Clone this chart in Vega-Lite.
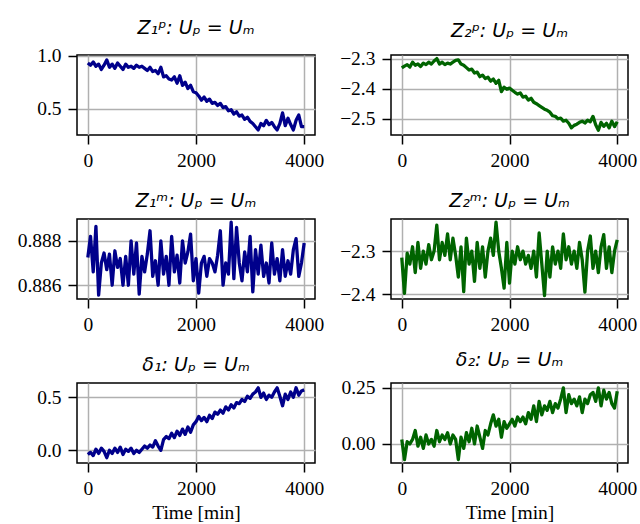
{
  "$schema": "https://vega.github.io/schema/vega-lite/v6.json",
  "background": "white",
  "padding": {"left": 16, "top": 17, "right": 2, "bottom": 0},
  "data": {"values": [
    {"t": 0, "a": 0.93, "b": -2.331, "c": 0.88725, "d": -2.315, "e": -0.04, "f": 0.02},
    {"t": 50, "a": 0.91, "b": -2.325, "c": 0.8882, "d": -2.398, "e": -0.02, "f": -0.07},
    {"t": 100, "a": 0.94, "b": -2.32, "c": 0.8866, "d": -2.305, "e": -0.05, "f": 0.01},
    {"t": 150, "a": 0.9, "b": -2.328, "c": 0.88865, "d": -2.33, "e": 0.01, "f": 0.0},
    {"t": 200, "a": 0.92, "b": -2.312, "c": 0.88555, "d": -2.29, "e": -0.03, "f": 0.02},
    {"t": 250, "a": 0.87, "b": -2.322, "c": 0.887, "d": -2.35, "e": 0.02, "f": 0.06},
    {"t": 300, "a": 0.91, "b": -2.318, "c": 0.88745, "d": -2.28, "e": -0.01, "f": -0.01},
    {"t": 350, "a": 0.96, "b": -2.326, "c": 0.8867, "d": -2.34, "e": -0.07, "f": 0.03},
    {"t": 400, "a": 0.89, "b": -2.315, "c": 0.8874, "d": -2.3, "e": 0.0, "f": -0.02},
    {"t": 450, "a": 0.92, "b": -2.32, "c": 0.886, "d": -2.33, "e": -0.03, "f": 0.04},
    {"t": 500, "a": 0.88, "b": -2.312, "c": 0.88755, "d": -2.285, "e": 0.02, "f": 0.0},
    {"t": 550, "a": 0.93, "b": -2.318, "c": 0.8868, "d": -2.32, "e": -0.02, "f": 0.02},
    {"t": 600, "a": 0.9, "b": -2.308, "c": 0.8872, "d": -2.3, "e": 0.03, "f": -0.01},
    {"t": 650, "a": 0.87, "b": -2.3, "c": 0.886, "d": -2.24, "e": -0.04, "f": 0.06},
    {"t": 700, "a": 0.92, "b": -2.318, "c": 0.8873, "d": -2.32, "e": 0.01, "f": 0.01},
    {"t": 750, "a": 0.89, "b": -2.312, "c": 0.886, "d": -2.28, "e": -0.01, "f": 0.04},
    {"t": 800, "a": 0.9, "b": -2.32, "c": 0.888, "d": -2.31, "e": 0.02, "f": 0.02},
    {"t": 850, "a": 0.88, "b": -2.315, "c": 0.8865, "d": -2.26, "e": -0.03, "f": 0.05},
    {"t": 900, "a": 0.91, "b": -2.318, "c": 0.8879, "d": -2.32, "e": 0.0, "f": 0.0},
    {"t": 950, "a": 0.89, "b": -2.312, "c": 0.8856, "d": -2.27, "e": -0.02, "f": 0.04},
    {"t": 1000, "a": 0.9, "b": -2.306, "c": 0.8873, "d": -2.31, "e": 0.01, "f": 0.02},
    {"t": 1050, "a": 0.88, "b": -2.304, "c": 0.8866, "d": -2.36, "e": 0.04, "f": -0.07},
    {"t": 1100, "a": 0.86, "b": -2.318, "c": 0.8874, "d": -2.29, "e": 0.02, "f": 0.03},
    {"t": 1150, "a": 0.89, "b": -2.322, "c": 0.88845, "d": -2.394, "e": 0.05, "f": -0.02},
    {"t": 1200, "a": 0.85, "b": -2.33, "c": 0.8864, "d": -2.27, "e": 0.03, "f": 0.05},
    {"t": 1250, "a": 0.86, "b": -2.338, "c": 0.8871, "d": -2.33, "e": 0.09, "f": 0.01},
    {"t": 1300, "a": 0.83, "b": -2.335, "c": 0.886, "d": -2.3, "e": 0.04, "f": 0.07},
    {"t": 1350, "a": 0.89, "b": -2.348, "c": 0.888, "d": -2.37, "e": 0.0, "f": 0.0},
    {"t": 1400, "a": 0.8, "b": -2.345, "c": 0.8865, "d": -2.28, "e": 0.1, "f": 0.08},
    {"t": 1450, "a": 0.81, "b": -2.36, "c": 0.8873, "d": -2.34, "e": 0.13, "f": 0.03},
    {"t": 1500, "a": 0.78, "b": -2.355, "c": 0.886, "d": -2.29, "e": 0.11, "f": -0.02},
    {"t": 1550, "a": 0.77, "b": -2.366, "c": 0.8882, "d": -2.36, "e": 0.16, "f": 0.06},
    {"t": 1600, "a": 0.8, "b": -2.362, "c": 0.8866, "d": -2.3, "e": 0.12, "f": 0.04},
    {"t": 1650, "a": 0.74, "b": -2.375, "c": 0.88735, "d": -2.27, "e": 0.18, "f": 0.09},
    {"t": 1700, "a": 0.81, "b": -2.368, "c": 0.8861, "d": -2.31, "e": 0.14, "f": 0.13},
    {"t": 1750, "a": 0.72, "b": -2.382, "c": 0.888, "d": -2.233, "e": 0.2, "f": 0.08},
    {"t": 1800, "a": 0.75, "b": -2.372, "c": 0.887, "d": -2.3, "e": 0.15, "f": 0.11},
    {"t": 1850, "a": 0.69, "b": -2.41, "c": 0.8875, "d": -2.34, "e": 0.22, "f": 0.03},
    {"t": 1900, "a": 0.72, "b": -2.395, "c": 0.8883, "d": -2.386, "e": 0.17, "f": 0.1},
    {"t": 1950, "a": 0.66, "b": -2.402, "c": 0.8862, "d": -2.28, "e": 0.24, "f": 0.07},
    {"t": 2000, "a": 0.65, "b": -2.398, "c": 0.8872, "d": -2.374, "e": 0.27, "f": 0.09},
    {"t": 2050, "a": 0.62, "b": -2.405, "c": 0.88565, "d": -2.3, "e": 0.32, "f": 0.11},
    {"t": 2100, "a": 0.58, "b": -2.412, "c": 0.887, "d": -2.33, "e": 0.28, "f": 0.08},
    {"t": 2150, "a": 0.61, "b": -2.418, "c": 0.8873, "d": -2.29, "e": 0.31, "f": 0.12},
    {"t": 2200, "a": 0.57, "b": -2.414, "c": 0.8864, "d": -2.32, "e": 0.27, "f": 0.1},
    {"t": 2250, "a": 0.59, "b": -2.428, "c": 0.8872, "d": -2.3, "e": 0.33, "f": 0.12},
    {"t": 2300, "a": 0.55, "b": -2.425, "c": 0.887, "d": -2.33, "e": 0.3, "f": 0.09},
    {"t": 2350, "a": 0.56, "b": -2.438, "c": 0.8866, "d": -2.31, "e": 0.36, "f": 0.14},
    {"t": 2400, "a": 0.53, "b": -2.432, "c": 0.88735, "d": -2.34, "e": 0.34, "f": 0.11},
    {"t": 2450, "a": 0.55, "b": -2.445, "c": 0.88845, "d": -2.3, "e": 0.38, "f": 0.17},
    {"t": 2500, "a": 0.51, "b": -2.45, "c": 0.886, "d": -2.36, "e": 0.35, "f": 0.1},
    {"t": 2550, "a": 0.52, "b": -2.456, "c": 0.887, "d": -2.258, "e": 0.41, "f": 0.19},
    {"t": 2600, "a": 0.48, "b": -2.462, "c": 0.8865, "d": -2.33, "e": 0.38, "f": 0.13},
    {"t": 2650, "a": 0.49, "b": -2.468, "c": 0.88884, "d": -2.403, "e": 0.43, "f": 0.17},
    {"t": 2700, "a": 0.45, "b": -2.472, "c": 0.8863, "d": -2.3, "e": 0.4, "f": 0.15},
    {"t": 2750, "a": 0.47, "b": -2.478, "c": 0.8886, "d": -2.36, "e": 0.45, "f": 0.19},
    {"t": 2800, "a": 0.43, "b": -2.49, "c": 0.887, "d": -2.29, "e": 0.44, "f": 0.14},
    {"t": 2850, "a": 0.44, "b": -2.492, "c": 0.8862, "d": -2.33, "e": 0.48, "f": 0.18},
    {"t": 2900, "a": 0.4, "b": -2.5, "c": 0.8875, "d": -2.3, "e": 0.46, "f": 0.16},
    {"t": 2950, "a": 0.42, "b": -2.498, "c": 0.8866, "d": -2.34, "e": 0.51, "f": 0.2},
    {"t": 3000, "a": 0.38, "b": -2.508, "c": 0.8882, "d": -2.26, "e": 0.49, "f": 0.25},
    {"t": 3050, "a": 0.36, "b": -2.505, "c": 0.8857, "d": -2.32, "e": 0.53, "f": 0.14},
    {"t": 3100, "a": 0.33, "b": -2.515, "c": 0.8876, "d": -2.29, "e": 0.55, "f": 0.22},
    {"t": 3150, "a": 0.3, "b": -2.53, "c": 0.8865, "d": -2.33, "e": 0.59, "f": 0.18},
    {"t": 3200, "a": 0.36, "b": -2.522, "c": 0.8878, "d": -2.3, "e": 0.5, "f": 0.2},
    {"t": 3250, "a": 0.34, "b": -2.518, "c": 0.8864, "d": -2.34, "e": 0.54, "f": 0.17},
    {"t": 3300, "a": 0.39, "b": -2.512, "c": 0.887, "d": -2.28, "e": 0.48, "f": 0.21},
    {"t": 3350, "a": 0.35, "b": -2.508, "c": 0.8861, "d": -2.32, "e": 0.52, "f": 0.14},
    {"t": 3400, "a": 0.37, "b": -2.514, "c": 0.8879, "d": -2.395, "e": 0.5, "f": 0.2},
    {"t": 3450, "a": 0.33, "b": -2.505, "c": 0.8865, "d": -2.3, "e": 0.55, "f": 0.18},
    {"t": 3500, "a": 0.3, "b": -2.51, "c": 0.8872, "d": -2.265, "e": 0.59, "f": 0.22},
    {"t": 3550, "a": 0.36, "b": -2.492, "c": 0.8862, "d": -2.34, "e": 0.51, "f": 0.23},
    {"t": 3600, "a": 0.46, "b": -2.52, "c": 0.8876, "d": -2.3, "e": 0.42, "f": 0.19},
    {"t": 3650, "a": 0.34, "b": -2.538, "c": 0.8864, "d": -2.35, "e": 0.53, "f": 0.25},
    {"t": 3700, "a": 0.41, "b": -2.512, "c": 0.8871, "d": -2.29, "e": 0.48, "f": 0.17},
    {"t": 3750, "a": 0.35, "b": -2.525, "c": 0.8865, "d": -2.262, "e": 0.55, "f": 0.24},
    {"t": 3800, "a": 0.3, "b": -2.515, "c": 0.8876, "d": -2.34, "e": 0.5, "f": 0.2},
    {"t": 3850, "a": 0.39, "b": -2.53, "c": 0.8881, "d": -2.29, "e": 0.59, "f": 0.23},
    {"t": 3900, "a": 0.44, "b": -2.508, "c": 0.8864, "d": -2.35, "e": 0.52, "f": 0.18},
    {"t": 3950, "a": 0.33, "b": -2.526, "c": 0.887, "d": -2.3, "e": 0.56, "f": 0.16},
    {"t": 4000, "a": 0.33, "b": -2.51, "c": 0.8879, "d": -2.274, "e": 0.57, "f": 0.235}
  ]},
  "columns": 2,
  "bounds": "flush",
  "spacing": {"row": 84, "column": 76},
  "concat": [
    {
      "title": "Z₁ᵖ: Uₚ = Uₘ",
      "width": 238, "height": 80,
      "mark": {"type": "line", "color": "#00008b"},
      "encoding": {
        "x": {"field": "t", "type": "quantitative", "scale": {"domain": [-200, 4200], "nice": false, "zero": false}, "axis": {"values": [0, 2000, 4000], "format": "d", "title": null, "labelFont": "Liberation Serif"}},
        "y": {"field": "a", "type": "quantitative", "scale": {"domain": [0.252, 1.006], "nice": false, "zero": false}, "axis": {"values": [0.5, 1.0], "format": ".1f", "title": null, "labelFont": "Liberation Serif"}}
      }
    },
    {
      "title": "Z₂ᵖ: Uₚ = Uₘ",
      "width": 237, "height": 80,
      "mark": {"type": "line", "color": "#006400"},
      "encoding": {
        "x": {"field": "t", "type": "quantitative", "scale": {"domain": [-200, 4200], "nice": false, "zero": false}, "axis": {"values": [0, 2000, 4000], "format": "d", "title": null, "labelFont": "Liberation Serif"}},
        "y": {"field": "b", "type": "quantitative", "scale": {"domain": [-2.554, -2.288], "nice": false, "zero": false}, "axis": {"values": [-2.5, -2.4, -2.3], "format": ".1f", "title": null, "labelFont": "Liberation Serif"}}
      }
    },
    {
      "title": "Z₁ᵐ: Uₚ = Uₘ",
      "width": 238, "height": 80,
      "mark": {"type": "line", "color": "#00008b"},
      "encoding": {
        "x": {"field": "t", "type": "quantitative", "scale": {"domain": [-200, 4200], "nice": false, "zero": false}, "axis": {"values": [0, 2000, 4000], "format": "d", "title": null, "labelFont": "Liberation Serif"}},
        "y": {"field": "c", "type": "quantitative", "scale": {"domain": [0.88538, 0.88898], "nice": false, "zero": false}, "axis": {"values": [0.886, 0.888], "format": ".3f", "title": null, "labelFont": "Liberation Serif"}}
      }
    },
    {
      "title": "Z₂ᵐ: Uₚ = Uₘ",
      "width": 237, "height": 80,
      "mark": {"type": "line", "color": "#006400"},
      "encoding": {
        "x": {"field": "t", "type": "quantitative", "scale": {"domain": [-200, 4200], "nice": false, "zero": false}, "axis": {"values": [0, 2000, 4000], "format": "d", "title": null, "labelFont": "Liberation Serif"}},
        "y": {"field": "d", "type": "quantitative", "scale": {"domain": [-2.411, -2.2256], "nice": false, "zero": false}, "axis": {"values": [-2.4, -2.3], "format": ".1f", "title": null, "labelFont": "Liberation Serif"}}
      }
    },
    {
      "title": "δ₁: Uₚ = Uₘ",
      "width": 238, "height": 80,
      "mark": {"type": "line", "color": "#00008b"},
      "encoding": {
        "x": {"field": "t", "type": "quantitative", "scale": {"domain": [-200, 4200], "nice": false, "zero": false}, "axis": {"values": [0, 2000, 4000], "format": "d", "title": "Time [min]", "labelFont": "Liberation Serif"}},
        "y": {"field": "e", "type": "quantitative", "scale": {"domain": [-0.12, 0.635], "nice": false, "zero": false}, "axis": {"values": [0, 0.5], "format": ".1f", "title": null, "labelFont": "Liberation Serif"}}
      }
    },
    {
      "title": "δ₂: Uₚ = Uₘ",
      "width": 237, "height": 80,
      "mark": {"type": "line", "color": "#006400"},
      "encoding": {
        "x": {"field": "t", "type": "quantitative", "scale": {"domain": [-200, 4200], "nice": false, "zero": false}, "axis": {"values": [0, 2000, 4000], "format": "d", "title": "Time [min]", "labelFont": "Liberation Serif"}},
        "y": {"field": "f", "type": "quantitative", "scale": {"domain": [-0.085, 0.272], "nice": false, "zero": false}, "axis": {"values": [0, 0.25], "format": ".2f", "title": null, "labelFont": "Liberation Serif"}}
      }
    }
  ],
  "config": {
    "view": {"stroke": "black", "strokeWidth": 1.5},
    "style": {"guide-label": {"font": "Liberation Serif", "fontSize": 19.5, "fill": "black"}},
    "axis": {
      "domain": false,
      "grid": true,
      "gridColor": "#b0b0b0",
      "gridWidth": 1.5,
      "gridOpacity": 1,
      "ticks": true,
      "tickColor": "black",
      "tickSize": 9,
      "tickWidth": 1.5,
      "labelFont": "Liberation Serif",
      "labelFontSize": 19.5,
      "labelColor": "black",
      "labelPadding": 7,
      "labelFlush": false,
      "labelOverlap": false,
      "titleFont": "Liberation Serif",
      "titleFontSize": 19.5,
      "titleFontWeight": "normal",
      "titleColor": "black",
      "titlePadding": 6
    },
    "title": {"font": "DejaVu Sans", "fontSize": 19, "fontWeight": "normal", "fontStyle": "italic", "color": "black", "offset": 8},
    "line": {"strokeWidth": 3.3, "strokeJoin": "round"}
  }
}
